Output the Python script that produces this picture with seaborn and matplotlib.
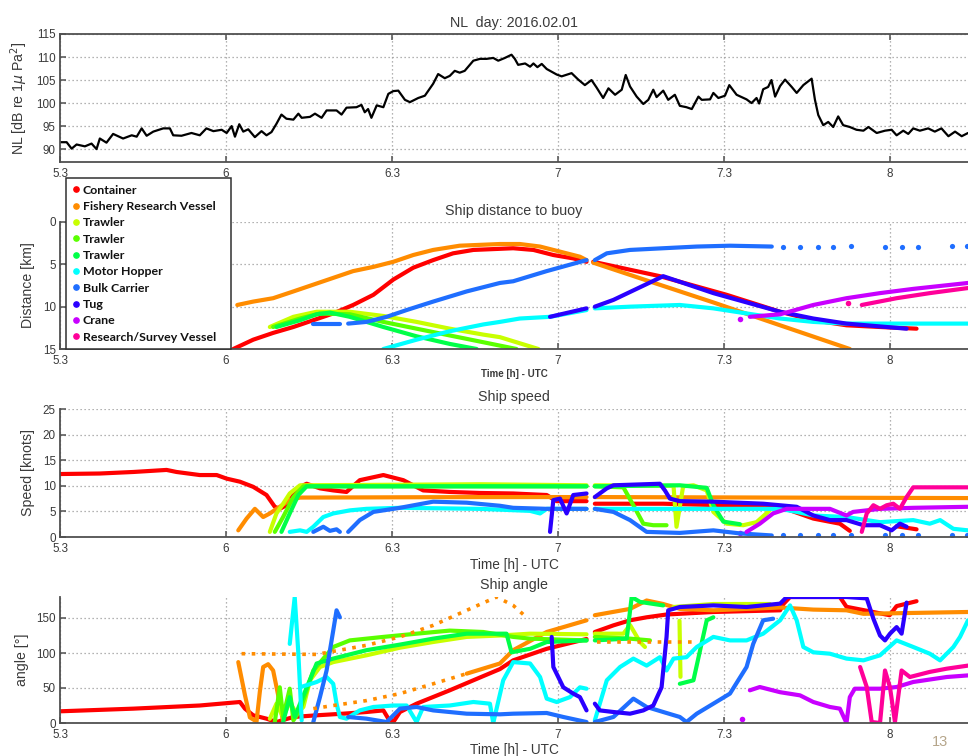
import numpy as np
import pandas as pd
import matplotlib
matplotlib.use("Agg")
import matplotlib.pyplot as plt
from matplotlib.lines import Line2D
import seaborn as sns

# ------------------------------------------------------------------ data
X_TICKS = [5.5, 6.0, 6.5, 7.0, 7.5, 8.0]
X_TICK_LABELS = ["5.3", "6", "6.3", "7", "7.3", "8"]

SHIPS = ["Container", "Fishery Research Vessel", "Trawler", "Trawler", "Trawler",
         "Motor Hopper", "Bulk Carrier", "Tug", "Crane", "Research/Survey Vessel"]
SHIP_COLORS = ["#ff0000", "#ff8c00", "#c8ff00", "#5aff00", "#00ff48",
               "#00ffff", "#1f6eff", "#2a00ff", "#c800ff", "#ff0099"]

# Noise level (hours decimal, dB)
NL_T = [5.50, 5.520, 5.535, 5.550, 5.575, 5.595, 5.610, 5.620, 5.640, 5.660, 5.690, 5.716, 5.731,
        5.746, 5.761, 5.781, 5.811, 5.831, 5.841, 5.866, 5.896, 5.921, 5.941, 5.962, 5.987, 6.002,
        6.017, 6.027, 6.040, 6.052, 6.067, 6.087, 6.107, 6.122, 6.137, 6.152, 6.167, 6.182, 6.203,
        6.218, 6.228, 6.253, 6.268, 6.288, 6.303, 6.333, 6.348, 6.363, 6.393, 6.408, 6.418, 6.428,
        6.438, 6.454, 6.474, 6.489, 6.504, 6.519, 6.539, 6.554, 6.579, 6.599, 6.624, 6.639, 6.659,
        6.674, 6.689, 6.704, 6.719, 6.745, 6.765,
        6.785, 6.805, 6.820, 6.840, 6.860, 6.870, 6.880, 6.901, 6.916, 6.926, 6.938, 6.951, 6.966,
        6.996, 7.011, 7.041, 7.061, 7.081, 7.101, 7.116, 7.136, 7.152, 7.172, 7.192, 7.204, 7.217,
        7.237, 7.257, 7.272, 7.287, 7.297, 7.317, 7.332, 7.352, 7.367, 7.387, 7.403, 7.423, 7.433,
        7.458, 7.468, 7.483, 7.503, 7.516, 7.538, 7.568, 7.583, 7.598, 7.606, 7.618, 7.633, 7.643,
        7.654, 7.669, 7.684, 7.704, 7.719, 7.739, 7.764, 7.774, 7.784, 7.799, 7.814, 7.829, 7.844,
        7.859, 7.879, 7.899, 7.920, 7.935, 7.960, 7.985, 8.005, 8.020, 8.040, 8.055, 8.070, 8.090,
        8.115, 8.135, 8.155, 8.176, 8.196, 8.216, 8.235]
NL_DB = [91.5, 91.5, 90.1, 91.0, 90.6, 91.2, 90.0, 92.3, 91.4, 93.3, 92.3, 93.0, 92.7, 94.5, 92.9,
         93.8, 94.5, 94.5, 93.0, 92.9, 93.5, 93.0, 94.5, 93.9, 94.2, 93.5, 95.0, 92.7, 95.4, 93.8,
         94.3, 92.6, 93.9, 93.0, 93.7, 95.5, 97.5, 96.6, 96.4, 97.7, 96.8, 97.0, 97.7, 96.8, 98.4,
         98.4, 97.5, 99.0, 99.1, 99.6, 98.0, 98.7, 96.8, 99.5, 99.1, 102.0, 102.6, 102.7, 100.7,
         100.2, 101.1, 101.6, 104.2, 106.3, 105.4, 105.9, 107.0, 106.6, 107.0, 109.2, 109.6,
         109.6, 109.8, 109.2, 109.8, 110.5, 109.6, 108.3, 108.6, 107.9, 108.6, 107.8, 108.5, 107.4,
         106.2, 105.8, 106.5, 105.1, 103.9, 105.0, 103.4, 101.1, 103.2, 101.8, 102.9, 106.1, 103.6,
         101.4, 99.8, 100.7, 102.9, 101.3, 102.7, 100.7, 101.8, 99.4, 99.1, 98.7, 101.4, 100.7,
         100.8, 102.2, 101.1, 101.6, 103.9, 101.8, 100.8, 100.0, 101.1, 99.9, 103.0, 103.5, 105.0,
         101.4, 103.7, 105.1, 103.5, 102.2, 103.9, 105.3, 100.7, 97.4, 95.2, 95.9, 94.8, 97.1,
         95.2, 94.8, 94.2, 94.0, 94.8, 93.5, 94.0, 94.2, 93.0, 94.0, 93.3, 94.5, 94.0, 94.5, 93.8,
         94.5, 92.8, 93.8, 92.8, 93.5]

# ---- ship distance to buoy [km]  (None = gap)
C_DIST_T = [6.022, 6.082, 6.142, 6.203, 6.263, 6.323, 6.383, 6.444, 6.504, 6.564, 6.624, 6.684, 6.745,
            6.805, 6.865, 6.926, 6.986, 7.046, 7.086, None, 7.106, 7.307, 7.508, 7.669, 7.769, 7.869,
            7.970, 8.080]
C_DIST = [15.0, 13.9, 13.1, 12.4, 11.6, 10.8, 9.8, 8.6, 6.8, 5.4, 4.5, 3.7, 3.3, 3.2, 3.1, 3.3, 3.9,
          4.3, 4.7, None, 4.7, 6.4, 8.6, 10.6, 11.6, 12.2, 12.4, 12.6]
F_DIST_T = [6.034, 6.082, 6.142, 6.203, 6.263, 6.323, 6.383, 6.444, 6.504, 6.564, 6.624, 6.704, 6.765,
            6.825, 6.885, 6.946, 7.006, 7.066, 7.086, None, 7.106, 7.267, 7.468, 7.669, 7.879]
F_DIST = [9.8, 9.4, 9.0, 8.2, 7.4, 6.6, 5.8, 5.3, 4.7, 3.9, 3.3, 2.8, 2.7, 2.6, 2.6, 2.9, 3.5, 4.1,
          4.5, None, 4.8, 6.9, 9.5, 12.2, 15.0]
T1_DIST_T = [6.132, 6.203, 6.273, 6.373, 6.474, 6.574, 6.674, 6.775, 6.825, 6.941]
T1_DIST = [12.4, 11.2, 10.6, 10.6, 11.1, 11.8, 12.6, 13.3, 13.6, 15.0]
T2_DIST_T = [6.142, 6.223, 6.283, 6.373, 6.474, 6.574, 6.674, 6.775, 6.875]
T2_DIST = [12.4, 11.4, 10.8, 10.9, 11.8, 12.6, 13.4, 14.2, 15.0]
T3_DIST_T = [6.152, 6.223, 6.273, 6.313, 6.373, 6.474, 6.574, 6.674, 6.755]
T3_DIST = [12.4, 11.6, 10.9, 10.7, 11.2, 12.4, 13.5, 14.4, 15.0]
MH_DIST_T = [6.474, 6.574, 6.674, 6.775, 6.825, 6.885, 6.976, 7.086, None, 7.111, 7.217, 7.367, 7.468,
             7.568, 7.669, 7.769, 7.869, 8.235]
MH_DIST = [15.0, 13.9, 12.9, 12.1, 11.8, 11.4, 11.2, 10.4, None, 10.2, 10.0, 9.8, 10.2, 10.8, 11.4,
           11.8, 12.0, 12.0]
BC_DIST_T = [6.263, 6.343, None, 6.368, 6.423, 6.484, 6.544, 6.624, 6.725, 6.825, 6.865, 6.966, 7.086,
             None, 7.111, 7.147, 7.217, 7.317, 7.418, 7.518, 7.644]
BC_DIST = [12.0, 12.0, None, 12.0, 11.8, 11.2, 10.4, 9.4, 8.2, 7.2, 7.0, 5.8, 4.5, None, 4.5, 3.7,
           3.3, 3.1, 2.9, 2.8, 2.9]
BC_DOTS_T = [7.679, 7.729, 7.784, 7.829, 7.884, 7.985, 8.035, 8.085, 8.186, 8.231]
BC_DIST_DOTS = [2.9, 2.9, 2.9, 2.9, 2.8, 2.9, 2.9, 2.9, 2.8, 2.8]
TUG_DIST_T = [6.976, 7.086, None, 7.111, 7.167, 7.317, 7.468, 7.669, 7.769, 7.869, 8.050]
TUG_DIST = [11.2, 10.2, None, 10.0, 9.2, 6.4, 8.4, 10.6, 11.4, 12.0, 12.6]
CR_DIST_T = [7.548, None, 7.578, 7.669, 7.769, 7.869, 7.970, 8.070, 8.235]
CR_DIST = [11.4, None, 11.2, 10.9, 9.8, 9.0, 8.4, 7.9, 7.2]
RS_DIST_T = [7.874, None, 7.915, 8.020, 8.120, 8.235]
RS_DIST = [9.6, None, 9.8, 9.0, 8.4, 7.8]

# ---- ship speed [knots]
C_SPD_T = [5.50, 5.620, 5.721, 5.821, 5.851, 5.921, 5.972, 6.002, 6.042, 6.082, 6.122, 6.147, 6.162,
           6.182, 6.203, 6.223, 6.243, 6.283, 6.323, 6.363, 6.403, 6.474, 6.534, 6.594, 6.674, 6.765,
           6.865, 6.966, 6.996, 7.086, None, 7.111, 7.317, 7.669, 7.769, 7.849, 7.879, None, 8.020, 8.080]
C_SPD = [12.3, 12.4, 12.7, 13.1, 12.7, 12.1, 12.1, 11.4, 10.8, 9.8, 8.2, 5.9, 5.5, 6.2, 8.2, 9.8,
         10.4, 9.5, 9.1, 8.8, 11.1, 12.1, 11.1, 9.1, 8.8, 8.6, 8.5, 8.2, 7.0, 7.0, None, 6.5, 6.5,
         5.9, 3.6, 2.6, 1.2, None, 2.1, 1.5]
F_SPD_T = [6.037, 6.062, 6.087, 6.112, 6.132, 6.162, 6.192, 6.223, 6.765, 7.086, None, 7.111, 8.235]
F_SPD = [1.3, 3.6, 5.5, 3.9, 4.6, 5.9, 7.2, 7.7, 7.8, 7.8, None, 7.8, 7.6]
T1_SPD_T = [6.132, 6.152, 6.172, 6.192, 6.223, 6.765, 7.086, None, 7.111, 7.348, 7.357, 7.377, 7.408,
            7.448, 7.468, 7.508, 7.558, 7.598, 7.638]
T1_SPD = [1.0, 4.6, 6.5, 8.5, 10.1, 10.3, 10.1, None, 10.1, 10.0, 2.0, 9.9, 10.1, 9.1, 4.9, 2.6,
          2.3, 2.9, 5.2]
T2_SPD_T = [6.147, 6.172, 6.203, 6.233, 6.765, 7.086, None, 7.111, 7.197, 7.227, 7.257, 7.287, 7.327]
T2_SPD = [1.0, 3.9, 7.8, 9.9, 9.9, 9.9, None, 9.9, 9.7, 6.2, 2.6, 2.3, 2.3]
T3_SPD_T = [6.167, 6.192, 6.218, 6.243, 6.765, 7.086, None, 7.111, 7.367, 7.448, 7.468, 7.498, 7.548]
T3_SPD = [1.0, 4.6, 8.2, 9.9, 9.9, 9.9, None, 9.9, 10.1, 9.6, 6.2, 3.0, 2.5]
MH_SPD_T = [6.192, 6.223, 6.243, 6.263, 6.293, 6.323, 6.373, 6.423, 6.524, 6.765, 6.916, 6.946, 6.966,
            7.086, None, 7.111, 7.669, 7.719, 7.769, 7.869, 7.970, 8.070, 8.120, 8.151, 8.191, 8.235]
MH_SPD = [1.0, 1.3, 1.0, 2.0, 3.9, 4.6, 5.2, 5.5, 5.7, 5.5, 5.1, 4.6, 5.5, 5.5, None, 5.5, 5.5, 4.9,
          4.2, 3.9, 2.9, 3.3, 2.6, 3.3, 1.6, 1.3]
BC_SPD_T = [6.263, 6.293, 6.313, 6.333, 6.343, None, 6.368, 6.403, 6.444, 6.524, 6.624, 6.725, 6.825,
            6.865, 6.966, 7.086, None, 7.111, 7.167, 7.217, 7.267, 7.367, 7.468, 7.548, 7.644]
BC_SPD = [1.0, 2.0, 1.2, 1.5, 1.0, None, 1.0, 3.3, 4.9, 5.7, 6.9, 6.7, 6.1, 5.7, 5.5, 5.5, None, 5.5,
          4.9, 3.3, 1.0, 0.8, 1.3, 0.7, 0.3]
BC_SPD_DOTS = [0.3, 0.3, 0.3, 0.3, 0.3, 0.3, 0.3, 0.3, 0.3, 0.3]
TUG_SPD_T = [6.976, 6.986, 7.006, 7.026, 7.046, 7.086, None, 7.111, 7.147, 7.167, 7.307, 7.322, 7.337,
             7.367, 7.468, 7.618, 7.719, 7.769, 7.819, 7.869, 7.920, 7.970, 8.005, 8.030, 8.050]
TUG_SPD = [1.0, 7.2, 7.5, 4.6, 8.2, 8.5, None, 7.8, 9.5, 10.1, 10.4, 9.1, 7.5, 7.0, 6.9, 6.5, 5.9,
           4.2, 3.3, 3.3, 2.3, 2.3, 1.3, 2.6, 2.0]
CR_SPD_T = [7.548, None, 7.568, 7.608, 7.648, 7.689, 7.819, 7.869, 7.889, 7.970, 8.070, 8.235]
CR_SPD = [0.7, None, 1.0, 2.6, 4.6, 5.5, 5.5, 4.2, 4.9, 5.5, 5.7, 5.9]
RS_SPD_T = [7.915, 7.930, 7.950, 7.970, 7.990, 8.010, 8.030, 8.050, 8.070, 8.235]
RS_SPD = [1.0, 4.6, 6.2, 5.5, 6.2, 6.5, 5.5, 7.8, 9.7, 9.7]

# ---- ship angle [deg]
C_ANG_T = [5.50, 5.721, 5.921, 6.042, 6.057, 6.082, 6.122, 6.152, 6.203, 6.273, 6.353, 6.423, 6.474,
           6.489, 6.504, 6.524, 6.574, 6.674, 6.745, 6.825, 6.865, 6.966, 7.086, None, 7.111, 7.167,
           7.217, 7.267, 7.327, 7.468, 7.669, 7.679, 7.699, 7.849, 7.869, 7.999, 8.020, 8.080]
C_ANG = [16.7, 20.5, 25.0, 30.0, 20.5, 11.0, 6.2, 1.4, 8.6, 11.0, 13.3, 15.7, 18.0, 6.2, 1.4, 15.7,
         27.6, 46.7, 61.0, 77.0, 89.5, 106.0, 120.0, None, 130.0, 139.5, 146.7, 151.0, 155.0, 158.6,
         161.0, 170.0, 180.0, 180.0, 166.0, 154.0, 167.0, 174.0]
F_ANG_T = [6.037, 6.057, 6.072, 6.092, 6.102, 6.112, 6.127, 6.142, 6.157, 6.172, None, 6.725, 6.825,
           6.865, 6.966, 7.086, None, 7.111, 7.217, 7.267, 7.317, 7.367, 7.468, 7.669, 7.769, 7.869,
           7.920, 8.235]
F_ANG = [87, 40, 8, 2, 45, 80, 84, 75, 40, 2, None, 70.5, 85, 104, 130, 146.7, None, 154, 163, 175,
         170, 163, 161, 165, 162, 161, 156, 158.6]
F_ANG_SPARSE_T = [6.047, 6.273, 6.423, 6.524, 6.624, 6.725, 6.815, 6.865, 6.905, None, 7.116, 7.408,
                  None, 6.263, 6.323, 6.423, 6.524, 6.624, 6.725]
F_ANG_SPARSE = [99, 98, 111, 123, 139.5, 161, 180, 168, 151, None, 116, 116, None, 20.5, 25, 32, 42,
                56, 70.5]
T1_ANG_T = [6.132, 6.152, 6.172, 6.192, 6.213, 6.233, 6.253, 6.283, 6.323, 6.423, 6.524, 6.624, 6.725,
            6.825, 6.916, 7.086, None, 7.111, 7.197, 7.217, 7.247, 7.262, None, 7.348, 7.468, 7.638,
            None, 7.366, 7.369]
T1_ANG = [6, 27.6, 8.6, 30, 13, 22.9, 61, 80, 87, 96.7, 107.6, 115.7, 123, 125, 127.6, 126.7, None,
          127.6, 127.6, 140, 115.7, 108.6, None, 165.7, 170, 170, None, 146, 66]
T2_ANG_T = [6.147, 6.162, 6.172, 6.192, 6.203, 6.223, 6.263, 6.323, 6.373, 6.474, 6.574, 6.674, 6.775,
            6.865, 6.916, 7.086, None, 7.111, 7.217, 7.277]
T2_ANG = [1.4, 51, 8.6, 49, 3.8, 18, 75, 108.6, 118, 123, 127.6, 132, 130, 123, 120.5, 118, None,
          123, 120.5, 118]
T3_ANG_T = [6.172, 6.192, 6.207, 6.223, 6.273, 6.323, 6.423, 6.524, 6.624, 6.725, 6.845, 6.860, 6.916,
            6.966, 7.086, None, 7.111, 7.207, 7.222, 7.247, 7.317, None, 7.367, 7.408, 7.448, 7.468]
T3_ANG = [1.4, 37, 8.6, 27.6, 85, 92, 104, 112, 120.5, 127.6, 127.6, 101, 106, 115.7, 118, None, 118,
          120.5, 180, 173, 168, None, 56, 61, 146.7, 151]
MH_ANG_T = [6.192, 6.207, 6.218, 6.228, None, 6.223, 6.273, 6.303, 6.323, 6.333, 6.343, 6.363, 6.403,
            6.444, 6.504, 6.544, 6.574, 6.594, 6.674, 6.745, 6.795, 6.805, 6.835, 6.865, 6.916, 6.946,
            6.966, 6.996, 7.036, 7.066, 7.086, None, 7.111, 7.147, 7.187, 7.227, 7.267, 7.307, 7.327,
            7.348, 7.387, 7.418, 7.468, 7.518, 7.568, 7.618, 7.669, 7.699, 7.719, 7.739, 7.769, 7.819,
            7.869, 7.920, 7.970, 8.020, 8.070, 8.120, 8.151, 8.191, 8.211, 8.235]
MH_ANG = [113, 180, 99, 3.8, None, 51, 58.6, 65.7, 56, 27.6, 8.6, 6.2, 18, 22.9, 25, 25, 1.4, 22.9,
          25, 30, 27.6, 0, 61, 87, 85, 65.7, 34.8, 30, 37, 51, 49, None, 3.8, 61, 80, 92, 82, 94, 75,
          92, 94, 108.6, 123, 118, 118, 127.6, 146.7, 168, 146.7, 108.6, 101, 99, 92, 89.5, 96.7,
          118, 108.6, 99, 89.5, 108.6, 123, 146.7]
BC_ANG_T = [6.263, 6.283, 6.303, 6.323, 6.333, 6.343, None, 6.368, 6.423, 6.484, 6.524, 6.574, 6.624,
            6.725, 6.825, 6.865, 6.966, 7.016, 7.086, None, 7.111, 7.167, 7.227, 7.267, 7.317, 7.367,
            7.387, 7.418, 7.468, 7.518, 7.568, 7.588, 7.618, 7.648]
BC_ANG = [1.4, 37, 75, 132, 161, 151, None, 8.6, 6.2, 1.4, 20.5, 22.9, 18, 13.3, 12.4, 13.3, 14.3,
          8.6, 1.4, None, 1.4, 8.6, 34.8, 22.9, 15.7, 8.6, 1.4, 13.3, 27.6, 42, 80, 113, 146.7, 149]
TUG_ANG_T = [6.981, 6.986, 7.016, 7.046, 7.066, 7.086, None, 7.111, 7.126, 7.167, 7.217, 7.257, 7.287,
             7.312, 7.327, 7.332, 7.367, 7.468, 7.568, 7.669, 7.689, 7.869, 7.930, 7.950, 7.970, 7.985,
             8.000, 8.020, 8.035, 8.050]
TUG_ANG = [123, 80, 51, 42, 37, 18, None, 27.6, 18, 15.7, 13.3, 18, 25, 51, 123, 161, 165.7, 168,
           165.7, 170.5, 180, 180, 178, 149, 125, 118, 127.6, 137, 127.6, 172]
CR_ANG_T = [7.553, None, 7.578, 7.608, 7.669, 7.729, 7.769, 7.819, 7.849, 7.869, 7.879, 7.894, 7.970,
            8.020, 8.070, 8.171, 8.235]
CR_ANG = [6.2, None, 46.7, 51.4, 44, 39.5, 30, 22.9, 20.5, 0, 37, 49, 49, 51.4, 58.6, 65.7, 68]
RS_ANG_T = [7.910, 7.930, 7.945, 7.970, 7.985, 8.000, 8.015, 8.035, 8.060, 8.120, 8.171, 8.235]
RS_ANG = [80, 51.4, 1.4, 0, 75, 51, 1.4, 75, 65.7, 73, 77.6, 82]

DIST_SERIES = [(C_DIST_T, C_DIST), (F_DIST_T, F_DIST), (T1_DIST_T, T1_DIST), (T2_DIST_T, T2_DIST),
               (T3_DIST_T, T3_DIST), (MH_DIST_T, MH_DIST), (BC_DIST_T, BC_DIST),
               (TUG_DIST_T, TUG_DIST), (CR_DIST_T, CR_DIST), (RS_DIST_T, RS_DIST)]
SPD_SERIES = [(C_SPD_T, C_SPD), (F_SPD_T, F_SPD), (T1_SPD_T, T1_SPD), (T2_SPD_T, T2_SPD),
              (T3_SPD_T, T3_SPD), (MH_SPD_T, MH_SPD), (BC_SPD_T, BC_SPD),
              (TUG_SPD_T, TUG_SPD), (CR_SPD_T, CR_SPD), (RS_SPD_T, RS_SPD)]
ANG_SERIES = [(C_ANG_T, C_ANG), (F_ANG_T, F_ANG), (T1_ANG_T, T1_ANG), (T2_ANG_T, T2_ANG),
              (T3_ANG_T, T3_ANG), (MH_ANG_T, MH_ANG), (BC_ANG_T, BC_ANG),
              (TUG_ANG_T, TUG_ANG), (CR_ANG_T, CR_ANG), (RS_ANG_T, RS_ANG)]

# ------------------------------------------------------------------ style
sns.set_theme(style="white")
plt.rcParams["font.family"] = ["Liberation Sans", "DejaVu Sans"]
TEXT = "#3a3a3a"
SPINE = "#505050"
GRID = "#9a9a9a"
LW = 3.0

fig = plt.figure(figsize=(9.68, 7.56), dpi=100)
W, H = 968.0, 756.0


def add_axes(top_px, bottom_px):
    return fig.add_axes([60 / W, 1 - bottom_px / H, 908 / W, (bottom_px - top_px) / H])


def draw(ax, t, v, color, lw=LW, **kw):
    df = pd.DataFrame({"t": np.array(t, dtype=float), "v": np.array(v, dtype=float)})
    seg = df["t"].isna().cumsum()
    for _, g in df.groupby(seg):
        g = g.dropna()
        if len(g) >= 2:
            sns.lineplot(data=g, x="t", y="v", ax=ax, color=color, linewidth=lw, sort=False,
                         estimator=None, legend=False, solid_capstyle="round", **kw)
        elif len(g) == 1:
            sns.scatterplot(data=g, x="t", y="v", ax=ax, color=color, s=16, linewidth=0,
                            legend=False)


def style(ax, yticks, ylim, top_spine=False):
    ax.set_xlim(5.5, 8.235)
    ax.set_ylim(*ylim)
    ax.set_xticks(X_TICKS)
    ax.set_xticklabels(X_TICK_LABELS)
    ax.set_yticks(yticks)
    ax.set_axisbelow(True)
    ax.grid(True, linestyle=(0, (1, 2.2)), color=GRID, linewidth=0.9)
    for s in ["left", "bottom"]:
        ax.spines[s].set_color(SPINE)
        ax.spines[s].set_linewidth(1.3)
    ax.spines["right"].set_visible(False)
    ax.spines["top"].set_visible(top_spine)
    if top_spine:
        ax.spines["top"].set_color(SPINE)
        ax.spines["top"].set_linewidth(1.3)
    ax.tick_params(axis="both", direction="in", length=4, width=1.1, color=SPINE,
                   labelcolor=TEXT, labelsize=8.4, top=top_spine, left=True, bottom=True)
    ax.tick_params(axis="x", pad=4.5)
    ax.tick_params(axis="y", pad=3)
    ax.set_facecolor("white")


TITLE_FS = 10.3
LABEL_FS = 10.2

# ---- panel 1: noise level
ax1 = add_axes(34, 162)
sns.lineplot(x=NL_T, y=NL_DB, ax=ax1, color="black", linewidth=1.6, sort=False, estimator=None)
style(ax1, [90, 95, 100, 105, 110, 115], (87.2, 115), top_spine=True)
ax1.set_title("NL  day: 2016.02.01", fontsize=TITLE_FS, color=TEXT, pad=5)
ax1.set_ylabel(r"NL [dB re 1$\mu$ Pa$^2$]", fontsize=LABEL_FS, color=TEXT)
ax1.yaxis.set_label_coords(-0.033, 0.5)
ax1.set_xlabel("")

# ---- panel 2: distance
ax2 = add_axes(222, 349)
for (t, v), c in zip(DIST_SERIES, SHIP_COLORS):
    draw(ax2, t, v, c)
sns.scatterplot(x=BC_DOTS_T, y=BC_DIST_DOTS, ax=ax2, color=SHIP_COLORS[6], s=14, linewidth=0,
                legend=False)
style(ax2, [0, 5, 10, 15], (15, 0))
ax2.set_title("Ship distance to buoy", fontsize=TITLE_FS, color=TEXT, pad=5)
ax2.set_ylabel("Distance [km]", fontsize=LABEL_FS, color=TEXT)
ax2.yaxis.set_label_coords(-0.0275, 0.5)
ax2.set_xlabel("Time [h] - UTC", fontsize=7, fontweight="bold", color=TEXT, labelpad=1)

handles = [Line2D([], [], marker="o", linestyle="", color=c, markersize=3.8) for c in SHIP_COLORS]
leg = ax2.legend(handles, SHIPS, loc="upper left",
                 bbox_to_anchor=(66 / W, 1 - 349 / H, 165 / W, 171 / H),
                 bbox_transform=fig.transFigure, mode="expand", frameon=True, fancybox=False,
                 framealpha=1, edgecolor="#303030",
                 prop={"family": "Lato", "weight": "bold", "size": 8.9},
                 handlelength=0.5, handletextpad=0.3, labelspacing=0.43, borderpad=0.55,
                 borderaxespad=0)
leg.get_frame().set_linewidth(1.1)
for txt in leg.get_texts():
    txt.set_color("#111111")

# ---- panel 3: speed
ax3 = add_axes(409, 537)
for (t, v), c in zip(SPD_SERIES, SHIP_COLORS):
    draw(ax3, t, v, c)
sns.scatterplot(x=BC_DOTS_T, y=BC_SPD_DOTS, ax=ax3, color=SHIP_COLORS[6], s=14, linewidth=0,
                legend=False)
style(ax3, [0, 5, 10, 15, 20, 25], (0, 25))
ax3.set_title("Ship speed", fontsize=TITLE_FS, color=TEXT, pad=6)
ax3.set_ylabel("Speed [knots]", fontsize=LABEL_FS, color=TEXT)
ax3.yaxis.set_label_coords(-0.0275, 0.5)
ax3.set_xlabel("Time [h] - UTC", fontsize=9.8, color=TEXT, labelpad=2)

# ---- panel 4: angle
ax4 = add_axes(597, 723)
for (t, v), c in zip(ANG_SERIES, SHIP_COLORS):
    draw(ax4, t, v, c)
draw(ax4, F_ANG_SPARSE_T, F_ANG_SPARSE, SHIP_COLORS[1], lw=2.6, linestyle=(0, (1.0, 1.8)))
style(ax4, [0, 50, 100, 150], (0, 180))
ax4.set_title("Ship angle", fontsize=TITLE_FS, color=TEXT, pad=6)
ax4.set_ylabel("angle [°]", fontsize=LABEL_FS, color=TEXT)
ax4.yaxis.set_label_coords(-0.034, 0.5)
ax4.set_xlabel("Time [h] - UTC", fontsize=9.8, color=TEXT, labelpad=1)

fig.text(940 / W, 1 - 742 / H, "13", color="#b5a58a", fontsize=10.5, ha="center", va="center")

fig.savefig("out.png", dpi=100, facecolor="white")
